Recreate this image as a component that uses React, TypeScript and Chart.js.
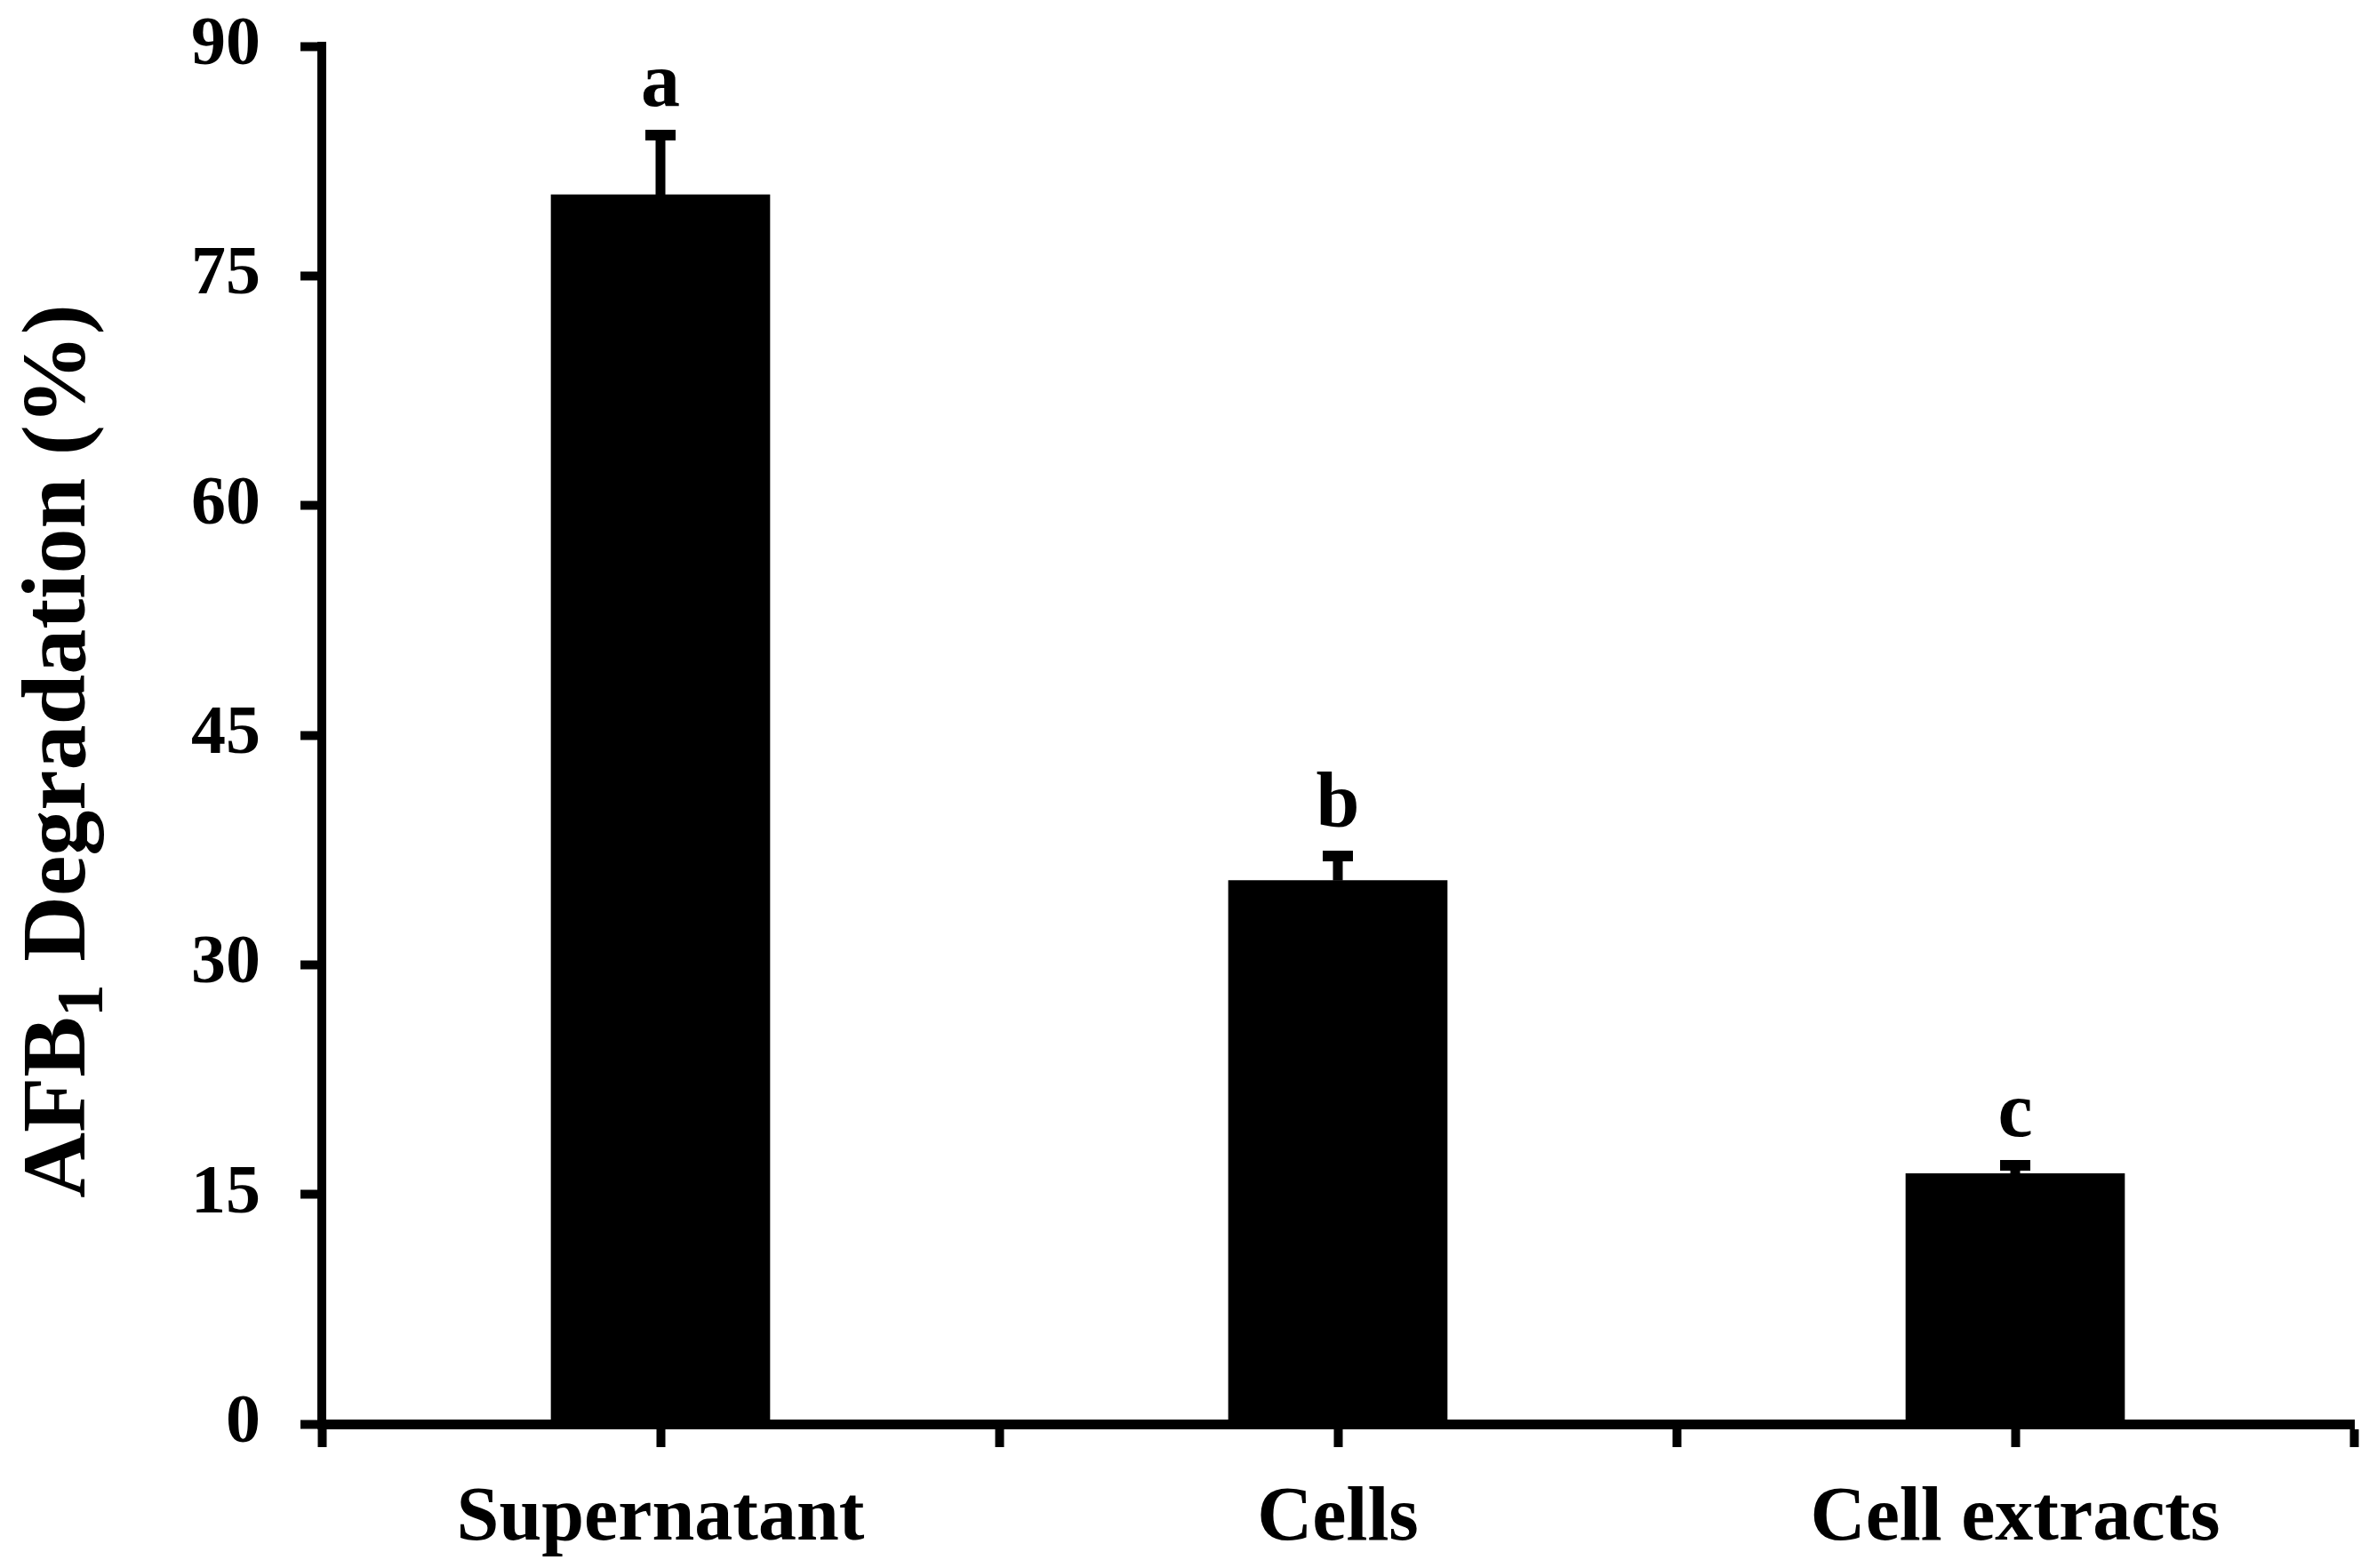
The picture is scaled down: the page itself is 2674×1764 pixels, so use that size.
import React, { useEffect, useRef } from "react";
import { Chart, registerables } from "chart.js";

Chart.register(...registerables);

const categories = ["Supernatant", "Cells", "Cell extracts"];
const degradation = [80.3, 35.5, 16.35];
const errors = [3.9, 1.6, 0.55];
const letters = ["a", "b", "c"];
const yMin = 0;
const yMax = 90;
const yStep = 15;

const FONT = '"Liberation Serif", "Times New Roman", serif';
const W = 2674;
const H = 1764;

const errorBarPlugin = {
  id: "errorBars",
  afterDatasetsDraw(chart: any) {
    const xs = chart.scales.x;
    const ys = chart.scales.y;
    const ctx = chart.ctx;
    ctx.save();
    ctx.strokeStyle = "#000";
    ctx.fillStyle = "#000";
    ctx.lineCap = "butt";
    degradation.forEach((v, i) => {
      const px = xs.getPixelForValue(i + 0.5);
      const py0 = ys.getPixelForValue(v);
      const py1 = ys.getPixelForValue(v + errors[i]);
      ctx.lineWidth = 11;
      ctx.beginPath();
      ctx.moveTo(px, py0);
      ctx.lineTo(px, py1);
      ctx.stroke();
      ctx.lineWidth = 12;
      ctx.beginPath();
      ctx.moveTo(px - 17, py1);
      ctx.lineTo(px + 17, py1);
      ctx.stroke();
      ctx.font = `bold 88px ${FONT}`;
      ctx.textAlign = "center";
      ctx.textBaseline = "alphabetic";
      ctx.fillText(letters[i], px, py1 - 6 - 27);
    });
    ctx.restore();
  },
};

const yTitlePlugin = {
  id: "yTitle",
  afterDraw(chart: any) {
    const ctx = chart.ctx;
    const area = chart.chartArea;
    const cy = (area.top + area.bottom) / 2 + 18;
    ctx.save();
    ctx.translate(95, cy);
    ctx.rotate(-Math.PI / 2);
    ctx.fillStyle = "#000";
    ctx.textAlign = "left";
    ctx.textBaseline = "alphabetic";
    const big = `bold 102px ${FONT}`;
    const small = `bold 73px ${FONT}`;
    const parts = [
      { t: "AFB", f: big, dy: 0 },
      { t: "1", f: small, dy: 20 },
      { t: " Degradation (%)", f: big, dy: 0 },
    ];
    let total = 0;
    const widths = parts.map((p) => {
      ctx.font = p.f;
      const w = ctx.measureText(p.t).width;
      total += w;
      return w;
    });
    let x = -total / 2;
    parts.forEach((p, i) => {
      ctx.font = p.f;
      ctx.fillText(p.t, x, p.dy);
      x += widths[i];
    });
    ctx.restore();
  },
};

export default function App() {
  const ref = useRef<HTMLCanvasElement | null>(null);

  useEffect(() => {
    document.body.style.margin = "0";
    const canvas = ref.current;
    if (!canvas) return;
    const chart = new Chart(canvas, {
      type: "bar",
      data: {
        datasets: [
          {
            data: degradation.map((v, i) => ({ x: i + 0.5, y: v })),
            backgroundColor: "#000",
            borderWidth: 0,
            barThickness: 246,
          },
        ],
      },
      options: {
        responsive: false,
        animation: false,
        layout: { padding: { top: 52, right: 26, left: 0, bottom: 0 } },
        plugins: {
          legend: { display: false },
          tooltip: { enabled: false },
          title: { display: false },
        },
        scales: {
          x: {
            type: "linear",
            min: 0,
            max: categories.length,
            offset: false,
            afterFit(scale: any) {
              scale.height = 162;
              scale.paddingLeft = 0;
              scale.paddingRight = 0;
            },
            afterBuildTicks(scale: any) {
              const t = [];
              for (let k = 0; k <= categories.length * 2; k++) t.push({ value: k / 2 });
              scale.ticks = t;
            },
            grid: {
              offset: false,
              drawOnChartArea: false,
              drawTicks: true,
              tickLength: 26,
              tickWidth: 10,
              tickColor: "#000",
            },
            border: { display: true, color: "#000", width: 11 },
            ticks: {
              autoSkip: false,
              maxRotation: 0,
              minRotation: 0,
              padding: 30,
              color: "#000",
              font: { family: FONT, size: 86, weight: "bold" },
              callback: (value: any) => {
                const v = Number(value);
                const idx = Math.floor(v);
                return Math.abs(v - idx - 0.5) < 1e-6 ? categories[idx] : "";
              },
            },
          },
          y: {
            type: "linear",
            min: yMin,
            max: yMax,
            afterFit(scale: any) {
              scale.width = 362;
              scale.paddingTop = 0;
              scale.paddingBottom = 0;
            },
            grid: {
              drawOnChartArea: false,
              drawTicks: true,
              tickLength: 24,
              tickWidth: 10,
              tickColor: "#000",
            },
            border: { display: true, color: "#000", width: 10 },
            ticks: {
              stepSize: yStep,
              padding: 45,
              color: "#000",
              font: { family: FONT, size: 78, weight: "bold" },
            },
          },
        },
      },
      plugins: [errorBarPlugin, yTitlePlugin],
    } as any);
    return () => chart.destroy();
  }, []);

  return (
    <div style={{ width: W, height: H, overflow: "hidden", background: "#fff" }}>
      <canvas ref={ref} width={W} height={H} style={{ display: "block" }} />
    </div>
  );
}
